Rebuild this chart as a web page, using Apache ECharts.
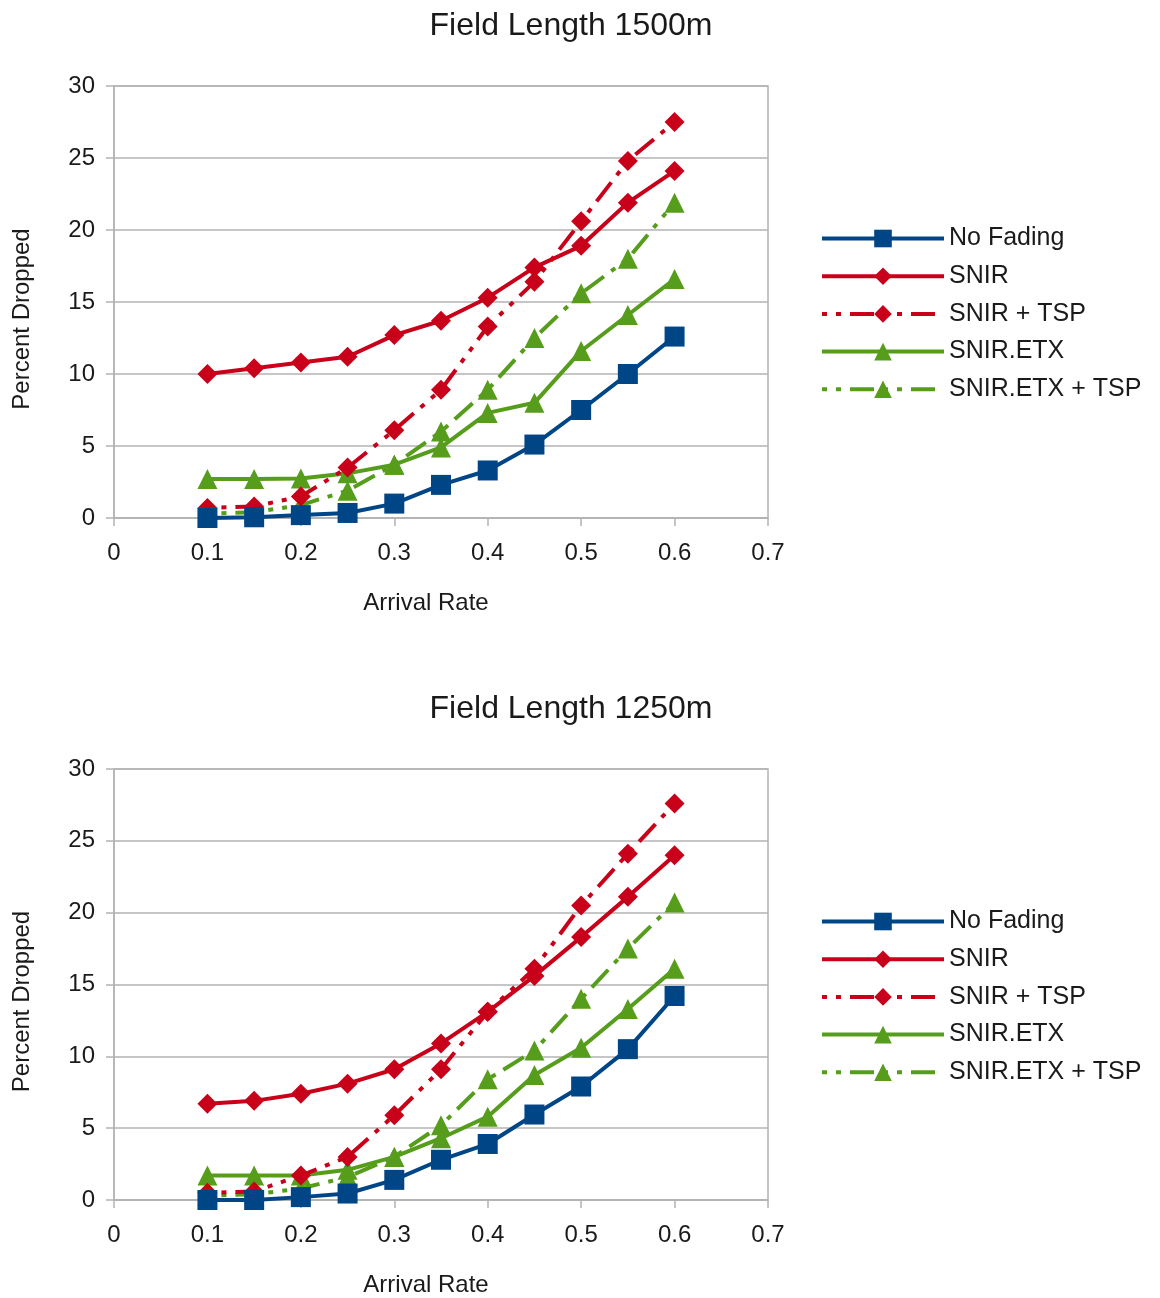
<!DOCTYPE html>
<html>
<head>
<meta charset="utf-8">
<script src="https://cdn.jsdelivr.net/npm/echarts@6/dist/echarts.min.js"></script>
<style>
html,body{margin:0;padding:0;background:#fff;}
#chart{width:1160px;height:1298px;}
</style>
</head>
<body>
<div id="chart"></div>
<script>
// ---- data ----
const arrivalRates = [0.1, 0.15, 0.2, 0.25, 0.3, 0.35, 0.4, 0.45, 0.5, 0.55, 0.6];
const seriesNames = ['No Fading', 'SNIR', 'SNIR + TSP', 'SNIR.ETX', 'SNIR.ETX + TSP'];
const titles = ['Field Length 1500m', 'Field Length 1250m'];
const xTicks = [0, 0.1, 0.2, 0.3, 0.4, 0.5, 0.6, 0.7];
const yTicks = [0, 5, 10, 15, 20, 25, 30];

// Field length 1500m
const noFading1500   = [0.0, 0.05, 0.2, 0.35, 1.0, 2.3, 3.3, 5.1, 7.5, 10.0, 12.6];
const snir1500       = [10.0, 10.4, 10.8, 11.2, 12.7, 13.7, 15.3, 17.4, 18.9, 21.9, 24.1];
const snirTsp1500    = [0.7, 0.8, 1.5, 3.5, 6.1, 8.9, 13.3, 16.4, 20.6, 24.8, 27.5];
const snirEtx1500    = [2.7, 2.7, 2.75, 3.1, 3.7, 4.9, 7.3, 8.0, 11.6, 14.1, 16.6];
const snirEtxTsp1500 = [0.3, 0.4, 0.9, 1.9, 3.7, 6.0, 8.9, 12.5, 15.6, 18.0, 21.9];

// Field length 1250m
const noFading1250   = [0.0, 0.0, 0.2, 0.45, 1.4, 2.8, 3.9, 5.95, 7.9, 10.5, 14.2];
const snir1250       = [6.7, 6.9, 7.4, 8.1, 9.1, 10.9, 13.1, 15.6, 18.3, 21.1, 24.0];
const snirTsp1250    = [0.5, 0.6, 1.7, 3.0, 5.9, 9.1, 13.1, 16.1, 20.5, 24.1, 27.6];
const snirEtx1250    = [1.7, 1.7, 1.7, 2.1, 3.0, 4.3, 5.8, 8.7, 10.6, 13.3, 16.1];
const snirEtxTsp1250 = [0.3, 0.4, 0.8, 1.6, 3.0, 5.2, 8.4, 10.4, 14.0, 17.5, 20.7];

const panels = [
  [noFading1500, snir1500, snirTsp1500, snirEtx1500, snirEtxTsp1500],
  [noFading1250, snir1250, snirTsp1250, snirEtx1250, snirEtxTsp1250]
];

// ---- styles ----
const BLUE = '#004586', RED = '#c9001a', GREEN = '#579d1c';
const DASHDOT = [5, 9, 5, 9, 24, 9];
const styles = [
  {color: BLUE, symbol: 'rect', dash: 'solid', size: 20},
  {color: RED, symbol: 'diamond', dash: 'solid', size: 20},
  {color: RED, symbol: 'diamond', dash: DASHDOT, size: 20},
  {color: GREEN, symbol: 'triangle', dash: 'solid', size: 20},
  {color: GREEN, symbol: 'triangle', dash: DASHDOT, size: 20}
];
const FONT = 'Liberation Sans, Arial, sans-serif';
const TXT = '#1a1a1a';
const GRIDC = '#b3b3b3';

const gridTops = [86, 769];
const titleTops = [10, 693];
const legendTops = [226, 909];

const option = {
  animation: false,
  backgroundColor: '#fff',
  title: [], legend: [], grid: [], xAxis: [], yAxis: [], series: []
};

panels.forEach((data, p) => {
  option.title.push({
    text: titles[p], left: 571, top: titleTops[p], textAlign: 'center', padding: 0,
    textStyle: {fontFamily: FONT, fontSize: 32, fontWeight: 'normal', color: TXT}
  });
  option.grid.push({
    left: 114, top: gridTops[p], width: 654, height: 432,
    show: true, borderColor: GRIDC, borderWidth: 1.5, backgroundColor: 'transparent'
  });
  option.xAxis.push({
    type: 'value', gridIndex: p, min: xTicks[0], max: xTicks[xTicks.length - 1], interval: 0.1,
    name: 'Arrival Rate', nameLocation: 'middle', nameGap: 73,
    nameTextStyle: {fontFamily: FONT, fontSize: 24, color: TXT, padding: [0, 30, 0, 0]},
    axisLine: {show: true, lineStyle: {color: GRIDC, width: 1.5}},
    axisTick: {show: true, length: 8, lineStyle: {color: GRIDC, width: 1.5}},
    splitLine: {show: false},
    axisLabel: {margin: 23, fontFamily: FONT, fontSize: 24, color: TXT,
      formatter: v => String(Math.round(v * 10) / 10)}
  });
  option.yAxis.push({
    type: 'value', gridIndex: p, min: yTicks[0], max: yTicks[yTicks.length - 1], interval: 5,
    name: 'Percent Dropped', nameLocation: 'middle', nameGap: 80,
    nameTextStyle: {fontFamily: FONT, fontSize: 24, color: TXT, padding: [0, 34, 0, 0]},
    axisLine: {show: true, lineStyle: {color: GRIDC, width: 1.5}},
    axisTick: {show: true, length: 8, lineStyle: {color: GRIDC, width: 1.5}},
    splitLine: {show: true, lineStyle: {color: GRIDC, width: 1.5}},
    axisLabel: {margin: 19, fontFamily: FONT, fontSize: 24, color: TXT}
  });
  option.legend.push({
    orient: 'vertical', left: 820, top: legendTops[p], padding: 0,
    data: seriesNames.slice(),
    itemWidth: 122, itemHeight: 22, itemGap: 12.7,
    lineStyle: {width: 4},
    textStyle: {fontFamily: FONT, fontSize: 25, color: TXT, lineHeight: 22},
    selectedMode: false
  });
  // draw in reverse so No Fading sits on top
  for (let i = seriesNames.length - 1; i >= 0; i--) {
    const s = styles[i];
    option.series.push({
      name: seriesNames[i], type: 'line', xAxisIndex: p, yAxisIndex: p,
      data: arrivalRates.map((x, k) => [x, data[i][k]]),
      symbol: s.symbol, symbolSize: s.size, showSymbol: true,
      itemStyle: {color: s.color, borderWidth: 0},
      lineStyle: {color: s.color, width: 4, type: s.dash, cap: 'butt'},
      emphasis: {disabled: true}
    });
  }
});

const chart = echarts.init(document.getElementById('chart'), null, {renderer: 'canvas'});
chart.setOption(option);
</script>
</body>
</html>
